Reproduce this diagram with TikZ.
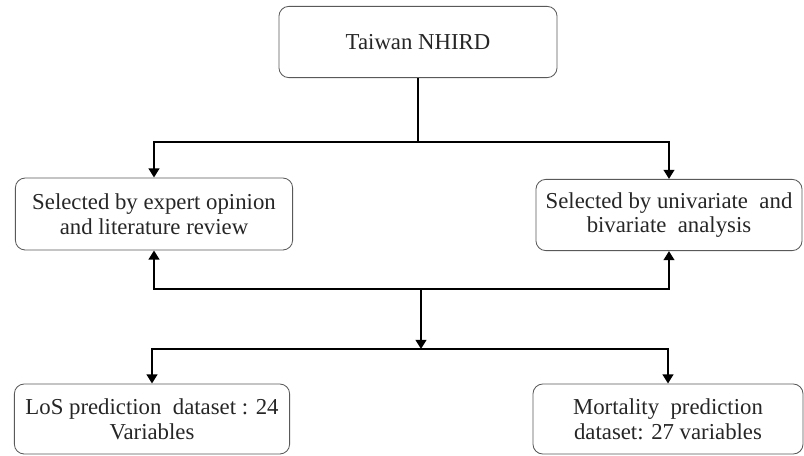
\documentclass[tikz,border=0pt]{standalone}
\usepackage{fontspec}
\setmainfont{Liberation Serif}
\usepackage{tikz}
\usetikzlibrary{arrows.meta}
\tikzset{box/.style={draw=black!65, line width=0.6pt, rounded corners=7pt, align=center, inner sep=0, text=black!85, font=\fontsize{16.2}{17.5}\selectfont}}
\tikzset{flow/.style={line width=2pt, ->}}

\begin{document}
\begin{tikzpicture}[x=0.025cm, y=-0.025cm, >={Triangle[length=6.5pt, width=7.5pt]}]
  \useasboundingbox (0,0) rectangle (804,455);

  \node[box, minimum width=6.95cm, minimum height=1.78cm] at (418, 42) (nhird) {Taiwan NHIRD};

  \node[box, minimum width=6.93cm, minimum height=1.8cm] at (154, 214) (expert) {Selected by expert opinion\\and literature review};
  \node[box, minimum width=6.65cm, minimum height=1.78cm] at (669, 215) (univ) {Selected by univariate~ and\\bivariate~ analysis};

  \node[box, minimum width=6.88cm, minimum height=1.75cm] at (152, 419) (los) {LoS prediction~ dataset : 24\\Variables};
  \node[box, minimum width=6.75cm, minimum height=1.75cm] at (668, 419) (mort) {Mortality~ prediction\\dataset: 27 variables};

  \coordinate (split) at (419, 142);
  \coordinate (merge) at (421, 289);
  \coordinate (fork) at (421, 349);

  % from the database to both selections
  \draw[line width=2pt] (nhird.south) -- (nhird.south |- split);
  \draw[flow] (split) -| (expert.north);
  \draw[flow] (split) -| (univ.north);

  % both selections back together
  \draw[flow] (merge) -| (expert.south);
  \draw[flow] (merge) -| (univ.south);
  \draw[flow] (merge) -- (fork);

  % the two datasets
  \draw[flow] (fork) -| (los.north);
  \draw[flow] (fork) -| (mort.north);
\end{tikzpicture}
\end{document}
